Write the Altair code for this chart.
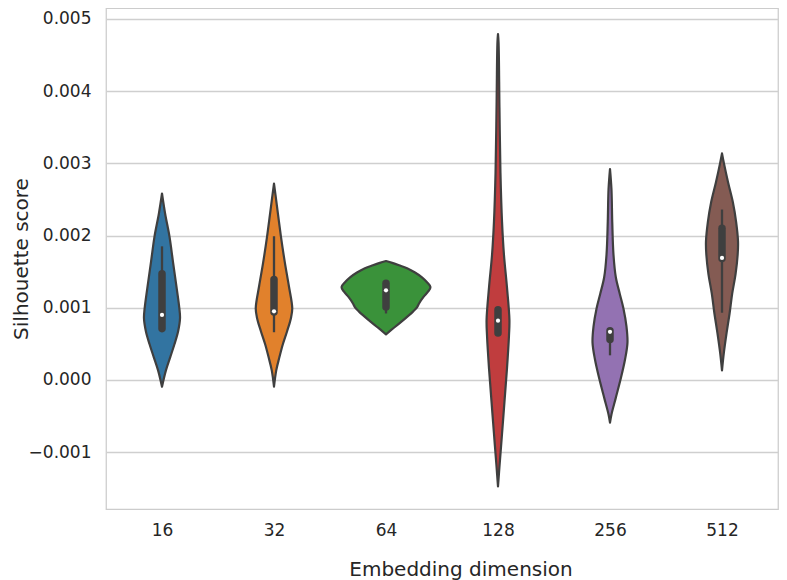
import altair as alt
import pandas as pd

categories = ["16", "32", "64", "128", "256", "512"]
colors = ["#3274a1", "#e1812c", "#3a923a", "#c03d3e", "#9372b2", "#845b53"]

# Violin profiles: score values (top to bottom) and half-widths (fraction of a category slot)
v16 = [0.002582, 0.002302, 0.001985, 0.001624, 0.001262, 0.000990, 0.000855, 0.000674, 0.000493, 0.000312, 0.000131, -0.000095]
w16 = [0, 0.028, 0.067, 0.099, 0.132, 0.155, 0.161, 0.144, 0.111, 0.073, 0.035, 0]

v32 = [0.002718, 0.002483, 0.001985, 0.001624, 0.001307, 0.000990, 0.000855, 0.000674, 0.000493, 0.000312, 0.000131, -0.000095]
w32 = [0, 0.020, 0.062, 0.097, 0.132, 0.163, 0.151, 0.117, 0.079, 0.048, 0.020, 0]

v64 = [0.001646, 0.001621, 0.001588, 0.001547, 0.001488, 0.001421, 0.001353, 0.001285, 0.001221, 0.001149, 0.001058, 0.001004, 0.000946, 0.000832, 0.000719, 0.000631]
w64 = [0, 0.055, 0.117, 0.188, 0.259, 0.321, 0.366, 0.397, 0.375, 0.335, 0.295, 0.277, 0.241, 0.157, 0.068, 0]

v128 = [0.004790, 0.004677, 0.003772, 0.002867, 0.002189, 0.001737, 0.001285, 0.000832, 0.000611, 0.000153, -0.000299, -0.000746, -0.001204, -0.001475]
w128 = [0, 0.005, 0.013, 0.022, 0.036, 0.053, 0.080, 0.102, 0.098, 0.080, 0.058, 0.036, 0.013, 0]

v256 = [0.002921, 0.002642, 0.002189, 0.001737, 0.001421, 0.001194, 0.000990, 0.000742, 0.000516, 0.000289, 0.000018, -0.000253, -0.000479, -0.000593]
w256 = [0, 0.013, 0.020, 0.031, 0.052, 0.087, 0.120, 0.147, 0.156, 0.135, 0.096, 0.051, 0.013, 0]

v512 = [0.003138, 0.003003, 0.002731, 0.002460, 0.002189, 0.001917, 0.001737, 0.001465, 0.001194, 0.000923, 0.000651, 0.000380, 0.000132]
w512 = [0, 0.017, 0.055, 0.097, 0.126, 0.143, 0.140, 0.121, 0.091, 0.068, 0.041, 0.017, 0]

# Inner box statistics
q1 = [0.00071, 0.00094, 0.00101, 0.00065, 0.00056, 0.00168]
q3 = [0.00147, 0.00139, 0.00134, 0.00097, 0.00068, 0.00210]
medians = [0.00090, 0.00095, 0.00124, 0.00082, 0.000665, 0.00169]
whisker_lo = [0.00066, 0.00066, 0.00092, 0.00061, 0.00034, 0.00093]
whisker_hi = [0.00185, 0.00199, 0.00137, 0.00100, 0.00070, 0.00236]

profiles = [(v16, w16), (v32, w32), (v64, w64), (v128, w128), (v256, w256), (v512, w512)]

rows = []
for i, (vals, widths) in enumerate(profiles):
    for v, w in zip(vals, widths):
        rows.append({"cat": categories[i], "v": v, "lo": i - w, "hi": i + w})
violin_df = pd.DataFrame(rows)

box_df = pd.DataFrame({
    "cat": categories,
    "pos": list(range(len(categories))),
    "q1": q1, "q3": q3, "med": medians, "wlo": whisker_lo, "whi": whisker_hi,
})

FONT = "DejaVu Sans"
TXT = "#262626"
DARK = "#3f3f3f"

label_expr = "[" + ",".join("'%s'" % c for c in categories) + "][datum.value]"

xscale = alt.Scale(domain=[-0.5, len(categories) - 0.5], nice=False, zero=False)
yscale = alt.Scale(domain=[-0.001789, 0.005152], nice=False, zero=False)

xaxis = alt.Axis(
    values=list(range(len(categories))), labelExpr=label_expr, grid=False,
    ticks=False, tickSize=0, domain=False, labelPadding=13, labelFontSize=17,
    labelFont=FONT, labelColor=TXT, labelFlush=False, labelOverlap=False,
    title="Embedding dimension", titleFont=FONT, titleFontSize=20,
    titleFontWeight="normal", titleColor=TXT, titleX=354.5, titleY=66,
    titleBaseline="alphabetic", titleAlign="center",
)
yaxis = alt.Axis(
    values=[-0.001, 0.0, 0.001, 0.002, 0.003, 0.004, 0.005], format=".3f",
    grid=True, gridColor="#cfcfcf", gridWidth=1.3, ticks=False, tickSize=0,
    domain=False, labelPadding=15, labelFontSize=17, labelFont=FONT,
    labelColor=TXT, labelFlush=False, labelOverlap=False,
    title="Silhouette score", titleFont=FONT, titleFontSize=20,
    titleFontWeight="normal", titleColor=TXT, titleX=-79, titleY=250.5,
    titleAngle=270, titleBaseline="alphabetic", titleAlign="center",
)

violins = alt.Chart(violin_df).mark_area(
    orient="horizontal", interpolate="catmull-rom", stroke=DARK, strokeWidth=2.2,
    strokeJoin="round", opacity=1,
).encode(
    y=alt.Y("v:Q", scale=yscale, axis=yaxis),
    x=alt.X("lo:Q", scale=xscale, axis=xaxis),
    x2="hi:Q",
    color=alt.Color("cat:N", scale=alt.Scale(domain=categories, range=colors), legend=None),
    detail="cat:N",
)

whiskers = alt.Chart(box_df).mark_rule(color=DARK, strokeWidth=2.3).encode(
    x=alt.X("pos:Q", scale=xscale), y=alt.Y("wlo:Q", scale=yscale), y2="whi:Q"
)
boxes = alt.Chart(box_df).mark_rule(color=DARK, strokeWidth=7.5, strokeCap="round").encode(
    x=alt.X("pos:Q", scale=xscale), y=alt.Y("q1:Q", scale=yscale), y2="q3:Q"
)
meds = alt.Chart(box_df).mark_point(filled=True, color="white", size=18, opacity=1).encode(
    x=alt.X("pos:Q", scale=xscale), y=alt.Y("med:Q", scale=yscale)
)

chart = alt.layer(violins, whiskers, boxes, meds).properties(
    width=672, height=501,
    autosize=alt.AutoSizeParams(type="none"),
    padding={"left": 98, "top": 0, "right": 1, "bottom": 71},
    background="white",
).configure_view(stroke="#cccccc", strokeWidth=1.25)

chart.save("out.html", embed_options={"renderer": "svg", "actions": False})
